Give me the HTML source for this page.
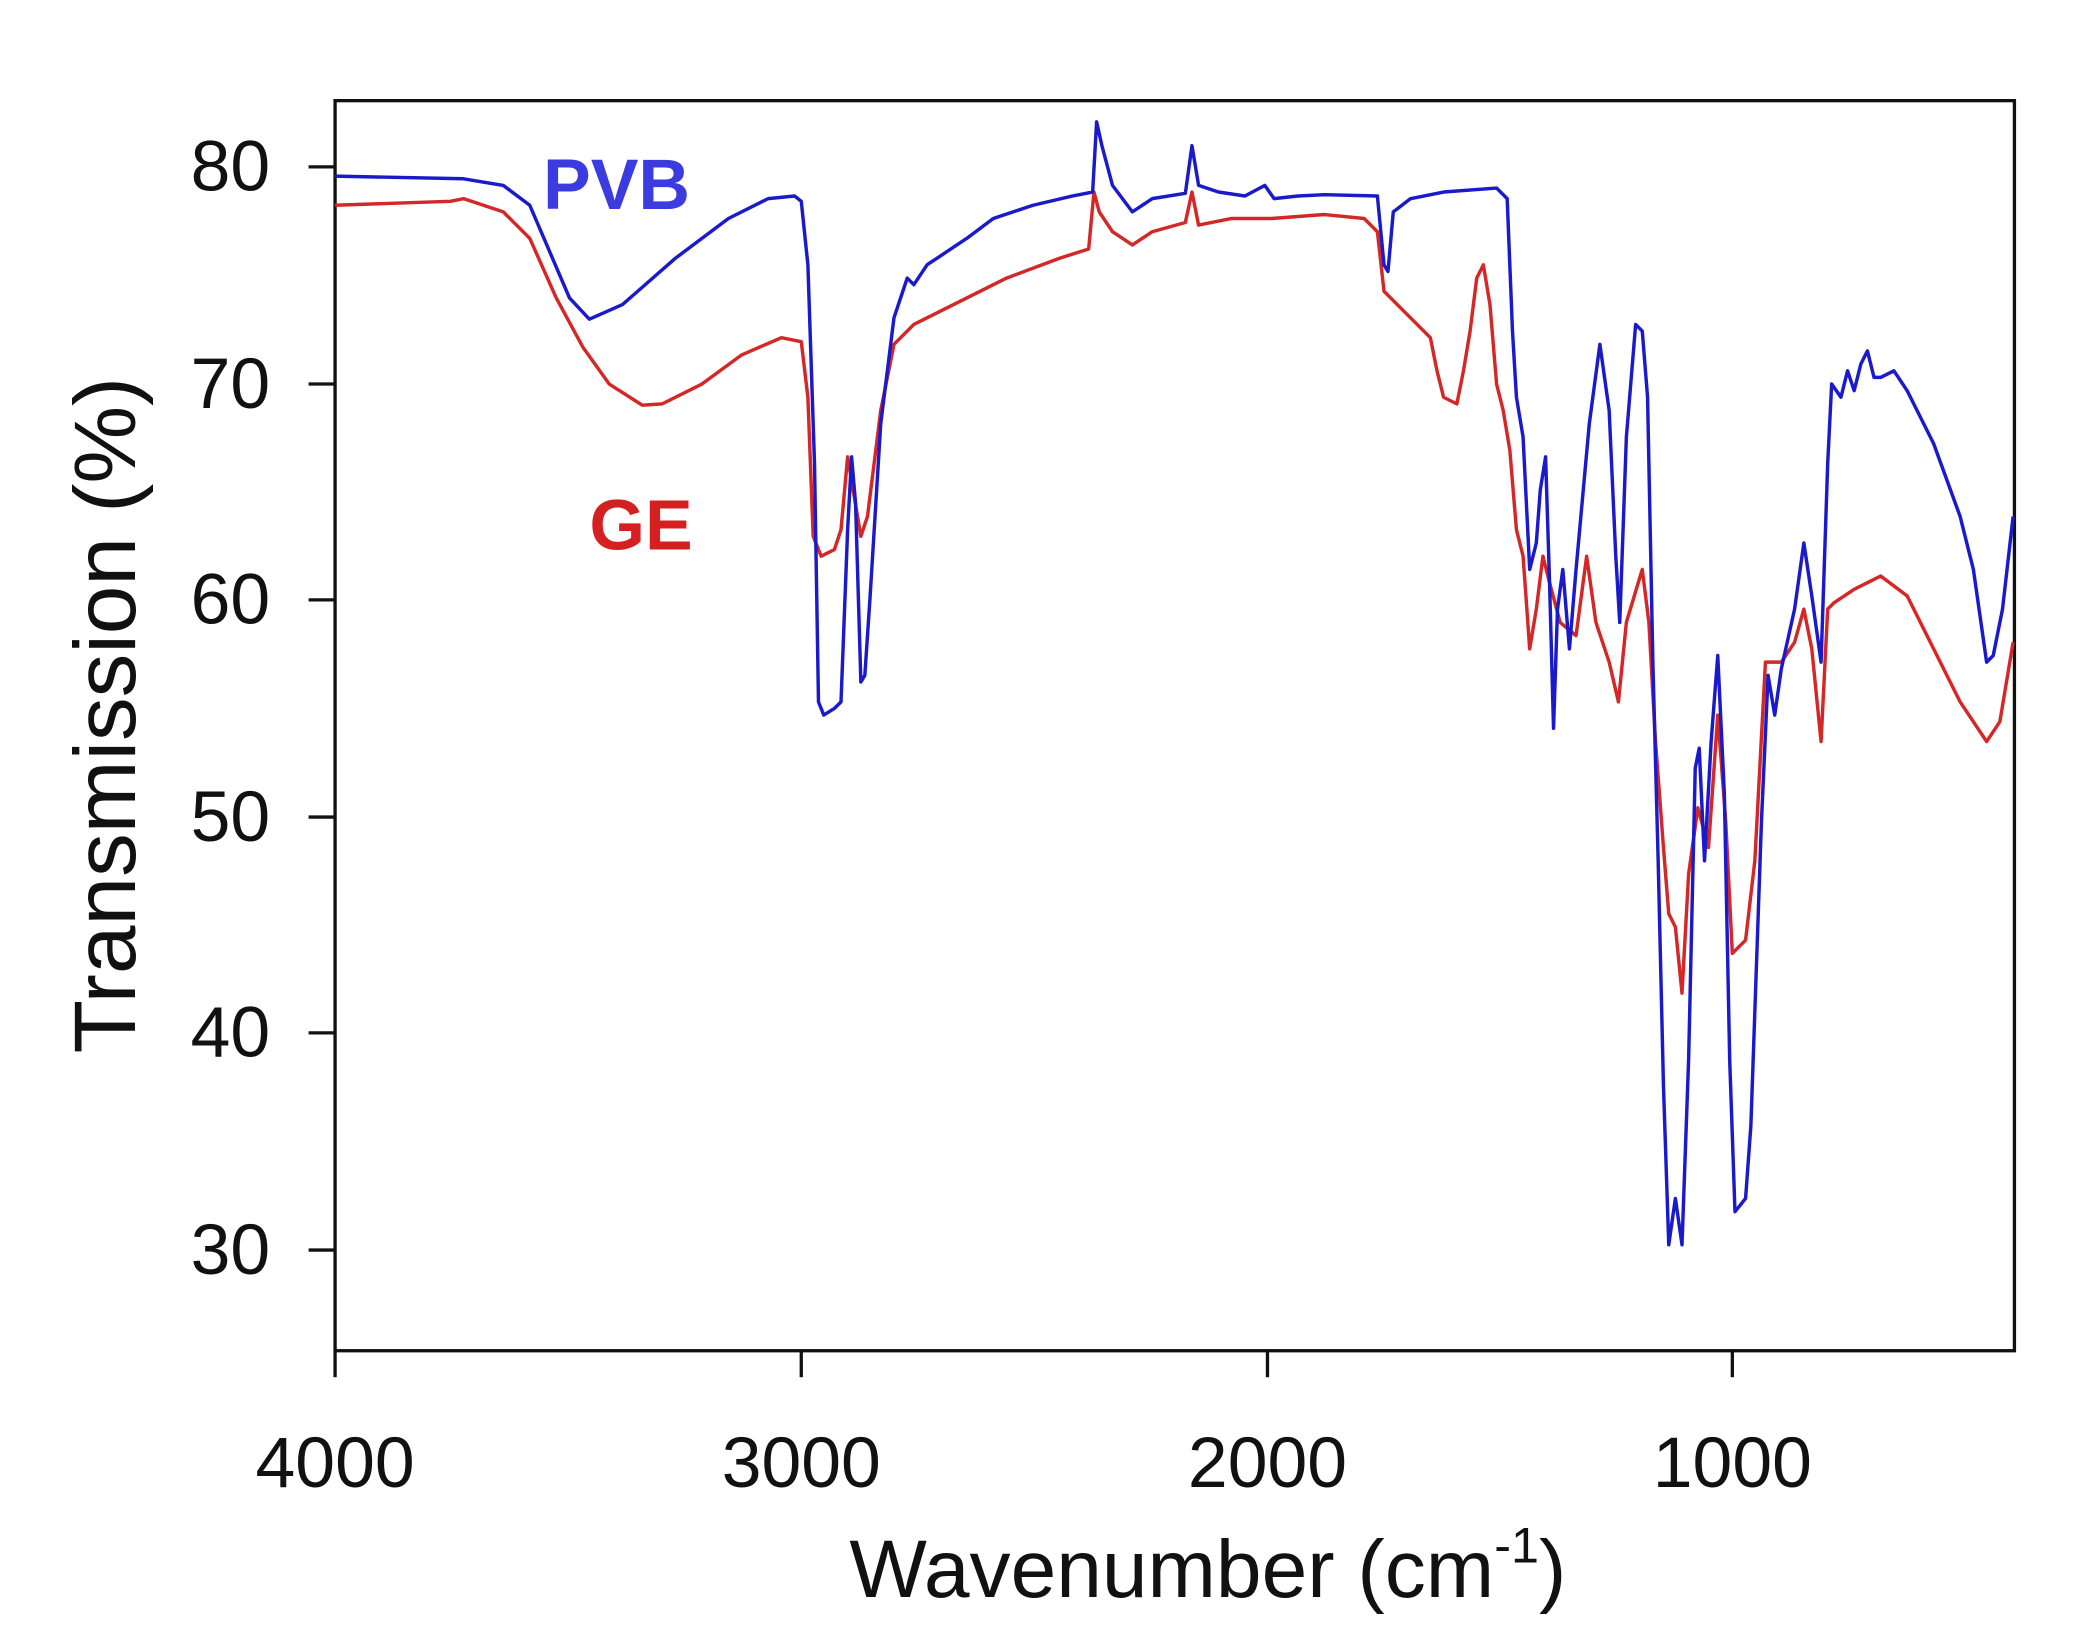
<!DOCTYPE html>
<html><head><meta charset="utf-8"><style>
html,body{margin:0;padding:0;background:#fff;}
svg{display:block;}
text{font-family:"Liberation Sans",Arial,sans-serif;}
</style></head><body>
<svg width="2078" height="1650" viewBox="0 0 1569 1246" preserveAspectRatio="none" xmlns="http://www.w3.org/2000/svg">
<rect width="1569" height="1246" fill="#fff"/>
<rect x="253" y="76" width="1268" height="944" fill="none" stroke="#111" stroke-width="2.5"/>
<g stroke="#111" stroke-width="2.5">
<line x1="253" y1="1020" x2="253" y2="1040"/><line x1="605" y1="1020" x2="605" y2="1040"/><line x1="957" y1="1020" x2="957" y2="1040"/><line x1="1308" y1="1020" x2="1308" y2="1040"/>
<line x1="233" y1="126" x2="253" y2="126"/><line x1="233" y1="290" x2="253" y2="290"/><line x1="233" y1="453" x2="253" y2="453"/><line x1="233" y1="617" x2="253" y2="617"/><line x1="233" y1="780" x2="253" y2="780"/><line x1="233" y1="944" x2="253" y2="944"/>
</g>
<g font-size="54" fill="#111">
<text x="253" y="1123" text-anchor="middle">4000</text>
<text x="605" y="1123" text-anchor="middle">3000</text>
<text x="957" y="1123" text-anchor="middle">2000</text>
<text x="1308" y="1123" text-anchor="middle">1000</text>
<g text-anchor="end"><text x="204" y="144">80</text><text x="204" y="308">70</text><text x="204" y="471">60</text><text x="204" y="635">50</text><text x="204" y="798">40</text><text x="204" y="962">30</text></g>
</g>
<text x="912" y="1206" font-size="62" text-anchor="middle" fill="#111">Wavenumber (cm<tspan dy="-26" font-size="38">-1</tspan><tspan dy="26">)</tspan></text>
<text transform="translate(102,540) rotate(-90)" font-size="66" text-anchor="middle" fill="#111">Transmission (%)</text>
<text x="410" y="158" font-size="54" font-weight="bold" fill="#3b3be0">PVB</text>
<text x="445" y="415" font-size="54" font-weight="bold" fill="#d42020">GE</text>
<polyline fill="none" stroke="#d42828" stroke-width="2.6" stroke-linejoin="round" points="253,155 340,152 350,150 380,160 400,180 420,225 440,262 460,290 485,306 500,305 530,290 560,268 590,255 605,258 610,300 614,405 620,420 630,415 635,400 640,345 645,375 650,405 655,390 665,310 675,260 690,245 720,230 760,210 800,195 822,188 826,145 830,160 840,175 855,185 870,175 895,168 900,145 905,170 930,165 960,165 1000,162 1030,165 1040,175 1045,220 1055,230 1065,240 1080,255 1085,280 1090,300 1100,305 1105,280 1110,250 1115,210 1120,200 1125,230 1130,290 1135,310 1140,340 1145,400 1150,420 1155,490 1160,460 1165,420 1170,440 1178,470 1190,480 1198,420 1205,470 1215,500 1222,530 1228,470 1240,430 1245,470 1250,560 1256,640 1260,690 1265,700 1270,750 1275,660 1282,610 1290,640 1297,540 1303,620 1308,720 1318,710 1325,650 1333,500 1345,500 1355,485 1362,460 1368,490 1375,560 1380,460 1385,455 1400,445 1410,440 1420,435 1440,450 1460,490 1480,530 1500,560 1510,545 1520,485"/>
<polyline fill="none" stroke="#1a1acc" stroke-width="2.6" stroke-linejoin="round" points="253,133 350,135 380,140 400,155 415,190 430,225 445,241 470,230 510,195 550,165 580,150 600,148 605,152 610,200 615,350 618,530 622,540 630,535 635,530 640,400 643,345 646,380 650,515 653,510 657,450 665,320 675,240 685,210 690,215 700,200 715,190 730,180 750,165 780,155 810,148 825,145 828,92 832,110 840,140 855,160 870,150 895,146 900,110 905,140 920,145 940,148 955,140 962,150 980,148 1000,147 1040,148 1045,200 1048,205 1052,160 1065,150 1090,145 1130,142 1138,150 1142,250 1145,300 1150,330 1155,430 1160,410 1163,370 1167,345 1170,440 1173,550 1176,460 1180,430 1185,490 1190,430 1200,320 1208,260 1215,310 1220,420 1223,470 1228,330 1235,245 1240,250 1244,300 1248,500 1252,650 1256,820 1260,940 1265,905 1270,940 1275,800 1280,580 1283,565 1287,650 1292,560 1297,495 1302,600 1306,800 1310,915 1318,905 1322,850 1330,620 1335,510 1340,540 1345,505 1355,460 1362,410 1368,450 1375,500 1380,350 1383,290 1390,300 1395,280 1400,295 1405,275 1410,265 1415,285 1420,285 1430,280 1440,295 1460,335 1480,390 1490,430 1500,500 1505,495 1512,460 1520,390"/>
</svg>
</body></html>
